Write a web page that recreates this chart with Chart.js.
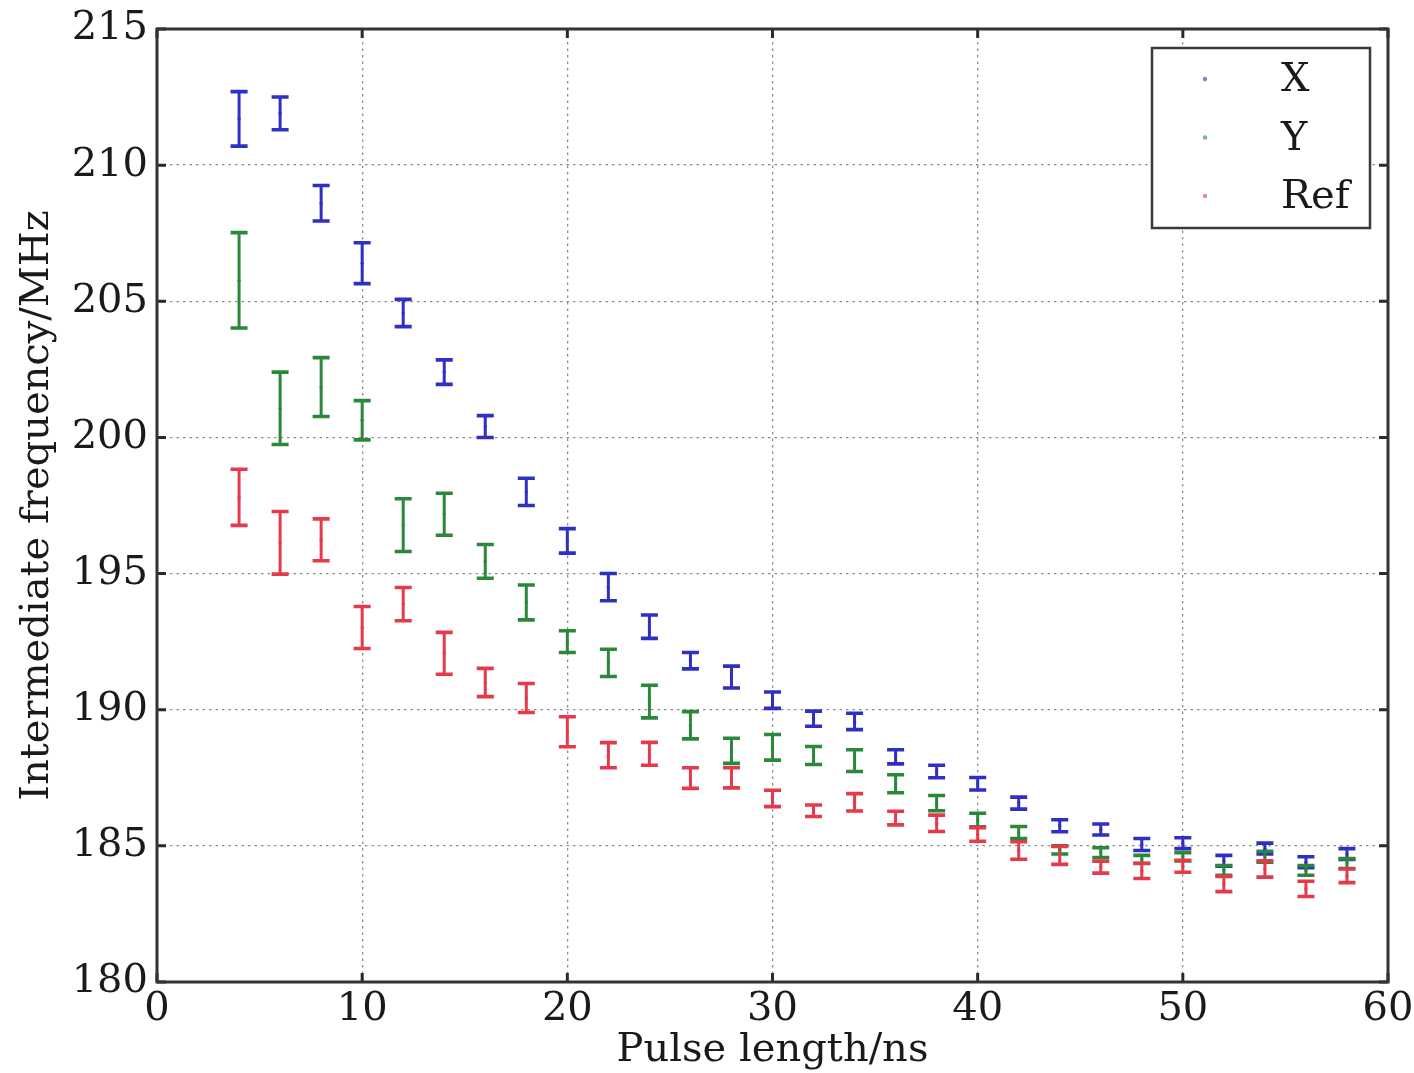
<!DOCTYPE html>
<html>
<head>
<meta charset="utf-8">
<script src="https://cdn.jsdelivr.net/npm/chart.js@4/dist/chart.umd.min.js"></script>
<style>
  html, body { margin: 0; padding: 0; background: #ffffff; }
  #wrap { width: 1414px; height: 1073px; }
</style>
</head>
<body>
<div id="wrap"><canvas id="c" width="1414" height="1073"></canvas></div>
<script>
// ---- data ----
const pulseLength = [4,6,8,10,12,14,16,18,20,22,24,26,28,30,32,34,36,38,40,42,44,46,48,50,52,54,56,58];

const xMean = [211.7,211.9,208.6,206.4,204.57,202.4,200.4,198.0,196.2,194.5,193.05,191.8,191.2,190.35,189.67,189.57,188.27,187.73,187.28,186.57,185.74,185.6,185.05,185.1,184.45,184.9,184.4,184.7];
const xErr  = [1.0,0.6,0.65,0.75,0.5,0.45,0.4,0.5,0.45,0.5,0.43,0.3,0.4,0.3,0.28,0.3,0.26,0.23,0.23,0.22,0.22,0.2,0.22,0.2,0.2,0.2,0.2,0.2];

const yMean = [205.77,201.07,201.85,200.63,196.78,197.18,195.45,193.94,192.5,191.72,190.3,189.43,188.49,188.62,188.32,188.13,187.28,186.57,185.95,185.49,184.85,184.75,184.5,184.6,184.1,184.6,184.1,184.35];
const yErr  = [1.75,1.33,1.08,0.72,0.97,0.77,0.62,0.64,0.4,0.5,0.6,0.5,0.46,0.47,0.33,0.4,0.33,0.28,0.25,0.22,0.15,0.18,0.15,0.15,0.18,0.2,0.18,0.18];

const refMean = [197.8,196.13,196.24,193.02,193.88,192.07,191.0,190.43,189.19,188.33,188.38,187.49,187.5,186.74,186.29,186.6,186.02,185.83,185.42,184.83,184.65,184.22,184.08,184.25,183.6,184.15,183.42,183.9];
const refErr  = [1.03,1.15,0.77,0.77,0.61,0.77,0.52,0.53,0.55,0.46,0.42,0.38,0.37,0.3,0.21,0.32,0.25,0.3,0.25,0.32,0.33,0.22,0.28,0.22,0.28,0.3,0.28,0.25];

const seriesLabels = ['X', 'Y', 'Ref'];
const xTicks = [0,10,20,30,40,50,60];
const yTicks = [180,185,190,195,200,205,210,215];
const xTitle = 'Pulse length/ns';
const yTitle = 'Intermediate frequency/MHz';

// ---- styling ----
const FONT = '"DejaVu Serif", "Liberation Serif", serif';
const colors = ['#2f2fc4', '#2b873a', '#e43a4c'];
const textColor = '#1a1a1a';

function makeSet(label, means, errs, color) {
  return {
    label: label,
    data: pulseLength.map((x, i) => ({ x: x, y: means[i] })),
    errors: errs,
    borderColor: color,
    backgroundColor: color,
    pointRadius: 1.6,
    pointBorderWidth: 0,
    showLine: false
  };
}

const errorBarPlugin = {
  id: 'errorBars',
  beforeDatasetsDraw(chart) {
    const ctx = chart.ctx;
    const xs = chart.scales.x, ys = chart.scales.y;
    chart.data.datasets.forEach((ds) => {
      if (!ds.errors) return;
      ctx.save();
      ctx.strokeStyle = ds.borderColor;
      ds.data.forEach((p, i) => {
        const e = ds.errors[i];
        const px = xs.getPixelForValue(p.x);
        const pTop = ys.getPixelForValue(p.y + e);
        const pBot = ys.getPixelForValue(p.y - e);
        ctx.lineWidth = 3;
        ctx.beginPath();
        ctx.moveTo(px, pTop);
        ctx.lineTo(px, pBot);
        ctx.stroke();
        ctx.lineWidth = 3.6;
        ctx.beginPath();
        ctx.moveTo(px - 8.5, pTop);
        ctx.lineTo(px + 8.5, pTop);
        ctx.moveTo(px - 8.5, pBot);
        ctx.lineTo(px + 8.5, pBot);
        ctx.stroke();
      });
      ctx.restore();
    });
  }
};

const framePlugin = {
  id: 'frame',
  afterDatasetsDraw(chart) {
    const ctx = chart.ctx;
    const a = chart.chartArea;
    const xs = chart.scales.x, ys = chart.scales.y;
    ctx.save();
    ctx.strokeStyle = '#2a2a2a';
    ctx.lineWidth = 3;
    // inward ticks
    ctx.beginPath();
    xs.ticks.forEach(t => {
      const px = xs.getPixelForValue(t.value);
      ctx.moveTo(px, a.bottom); ctx.lineTo(px, a.bottom - 9);
      ctx.moveTo(px, a.top); ctx.lineTo(px, a.top + 9);
    });
    ys.ticks.forEach(t => {
      const py = ys.getPixelForValue(t.value);
      ctx.moveTo(a.left, py); ctx.lineTo(a.left + 9, py);
      ctx.moveTo(a.right, py); ctx.lineTo(a.right - 9, py);
    });
    ctx.stroke();
    ctx.strokeStyle = '#333333';
    ctx.lineWidth = 3;
    ctx.strokeRect(a.left, a.top, a.right - a.left, a.bottom - a.top);
    ctx.restore();
  }
};

const legendPlugin = {
  id: 'boxLegend',
  afterDraw(chart) {
    const ctx = chart.ctx;
    const a = chart.chartArea;
    const w = 218, h = 180;
    const left = a.right - 18 - w;
    const top = a.top + 19;
    ctx.save();
    ctx.fillStyle = '#ffffff';
    ctx.fillRect(left, top, w, h);
    ctx.strokeStyle = '#3a3a3a';
    ctx.lineWidth = 2.5;
    ctx.strokeRect(left, top, w, h);
    ctx.font = '40px ' + FONT;
    ctx.textBaseline = 'middle';
    ctx.textAlign = 'left';
    chart.data.datasets.forEach((ds, i) => {
      const cy = top + 31 + i * 58.5;
      ctx.globalAlpha = 0.6;
      ctx.fillStyle = ds.borderColor;
      ctx.beginPath();
      ctx.arc(left + 53, cy, 2.2, 0, Math.PI * 2);
      ctx.fill();
      ctx.globalAlpha = 1;
      ctx.fillStyle = textColor;
      ctx.fillText(ds.label, left + 129, cy + 2);
    });
    ctx.restore();
  }
};

const gridColor = 'rgba(0,0,0,0.45)';

new Chart(document.getElementById('c'), {
  type: 'scatter',
  data: {
    datasets: [
      makeSet(seriesLabels[0], xMean, xErr, colors[0]),
      makeSet(seriesLabels[1], yMean, yErr, colors[1]),
      makeSet(seriesLabels[2], refMean, refErr, colors[2])
    ]
  },
  options: {
    responsive: false,
    animation: false,
    devicePixelRatio: 1,
    layout: { padding: { top: 29, right: 26, left: 0, bottom: 0 } },
    plugins: {
      legend: { display: false },
      tooltip: { enabled: false }
    },
    scales: {
      x: {
        type: 'linear',
        min: xTicks[0],
        max: xTicks[xTicks.length - 1],
        afterBuildTicks: (s) => { s.ticks = xTicks.map(v => ({ value: v })); },
        afterFit: (s) => { s.height = 91; s.paddingLeft = 0; s.paddingRight = 0; },
        ticks: {
          font: { family: FONT, size: 40 },
          color: textColor,
          padding: 4,
          maxRotation: 0,
          autoSkip: false
        },
        grid: { color: gridColor, lineWidth: 1.3, drawTicks: false },
        border: { display: false, dash: [2.5, 4] },
        title: {
          display: true,
          text: xTitle,
          color: textColor,
          font: { family: FONT, size: 40, lineHeight: 1.0 },
          padding: { top: 0, bottom: 2 }
        }
      },
      y: {
        type: 'linear',
        min: yTicks[0],
        max: yTicks[yTicks.length - 1],
        afterBuildTicks: (s) => { s.ticks = yTicks.map(v => ({ value: v })); },
        afterFit: (s) => { s.width = 157; s.paddingTop = 0; s.paddingBottom = 0; },
        ticks: {
          font: { family: FONT, size: 40 },
          color: textColor,
          padding: 9,
          autoSkip: false
        },
        grid: { color: gridColor, lineWidth: 1.3, drawTicks: false },
        border: { display: false, dash: [2.5, 4] },
        title: {
          display: true,
          text: yTitle,
          color: textColor,
          font: { family: FONT, size: 40, lineHeight: 1.0 },
          padding: { top: 18, bottom: 0 }
        }
      }
    }
  },
  plugins: [errorBarPlugin, framePlugin, legendPlugin]
});
</script>
</body>
</html>
